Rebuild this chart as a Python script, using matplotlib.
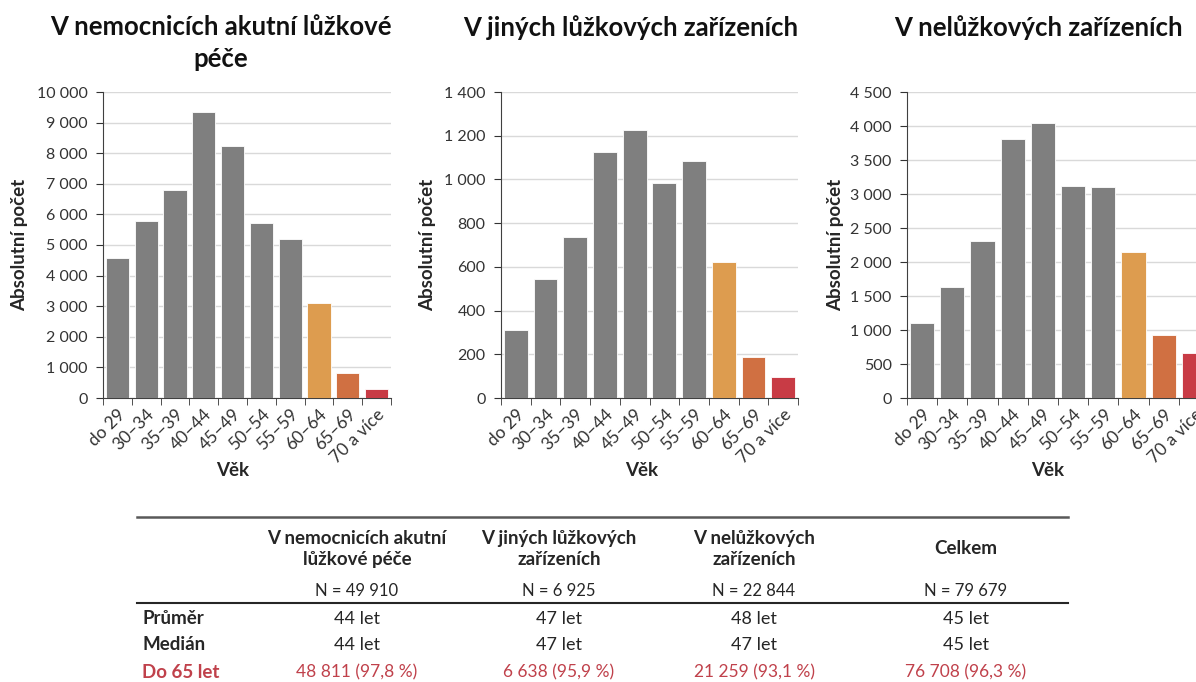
import matplotlib
matplotlib.use('Agg')
import matplotlib.pyplot as plt
from matplotlib.ticker import FixedLocator, FuncFormatter, MultipleLocator

FONT = 'Lato'
matplotlib.rcParams.update({'font.family': FONT, 'font.size': 11.5})

age_groups = ['do 29', '30–34', '35–39', '40–44', '45–49', '50–54',
              '55–59', '60–64', '65–69', '70 a více']

acute_counts = [4570, 5800, 6800, 9340, 8250, 5720, 5210, 3090, 830, 290]
other_bed_counts = [313, 546, 737, 1124, 1225, 984, 1086, 622, 186, 98]
outpatient_counts = [1103, 1632, 2304, 3814, 4039, 3123, 3103, 2147, 922, 662]

panel_titles = ['V nemocnicích akutní lůžkové\npéče',
                'V jiných lůžkových zařízeních',
                'V nelůžkových zařízeních']

# summary table under the charts
table_headers = ['V nemocnicích akutní\nlůžkové péče',
                 'V jiných lůžkových\nzařízeních',
                 'V nelůžkových\nzařízeních',
                 'Celkem']
table_n = ['N = 49 910', 'N = 6 925', 'N = 22 844', 'N = 79 679']
row_labels = ['Průměr', 'Medián', 'Do 65 let']
mean_age = ['44 let', '47 let', '48 let', '45 let']
median_age = ['44 let', '47 let', '47 let', '45 let']
under_65 = ['48 811 (97,8 %)', '6 638 (95,9 %)',
            '21 259 (93,1 %)', '76 708 (96,3 %)']

bar_colors = ['#7f7f7f'] * 7 + ['#dd9c4f', '#d07042', '#c83b45']
RED = '#c0414b'
DARK = '#262626'
W, H = 1196, 682
AX_TOP, AX_BOTTOM = 92, 398


def fmt_thousands(v, pos):
    return '{:,}'.format(int(v)).replace(',', ' ')


def draw_panel(fig, left, width, counts, ymax, ystep, title, title_x,
               ylabel_right, xlabel_x):
    """left, width and label positions are in pixels"""
    ax_h = AX_BOTTOM - AX_TOP
    ax = fig.add_axes([left / W, 1 - AX_BOTTOM / H, width / W, ax_h / H])
    x = range(len(counts))
    ax.bar(x, counts, width=0.8, color=bar_colors, edgecolor='white',
           linewidth=0.6, zorder=3)
    ax.set_xlim(-0.5, len(counts) - 0.5)
    ax.set_ylim(0, ymax)

    ax.yaxis.set_major_locator(MultipleLocator(ystep))
    ax.yaxis.set_major_formatter(FuncFormatter(fmt_thousands))
    ax.grid(axis='y', color='#d9d9d9', linewidth=1, zorder=0)

    # category labels at centers, tick marks between categories
    ax.set_xticks(list(x))
    ax.set_xticklabels(age_groups, rotation=45, ha='right',
                       rotation_mode='anchor', fontsize=12.5)
    ax.tick_params(axis='x', which='major', length=0, pad=6)
    ax.xaxis.set_minor_locator(FixedLocator([i - 0.5 for i in range(len(counts) + 1)]))
    ax.tick_params(axis='x', which='minor', length=5, color='#404040')
    ax.tick_params(axis='y', length=5, color='#404040', pad=6)
    ax.tick_params(colors='#333333', which='both')

    for side in ('top', 'right'):
        ax.spines[side].set_visible(False)
    for side in ('left', 'bottom'):
        ax.spines[side].set_color('#404040')

    ax.set_xlabel('Věk', fontweight='bold', fontsize=13.5, color=DARK)
    ax.xaxis.set_label_coords((xlabel_x - left) / width,
                              (AX_BOTTOM - 462) / ax_h)
    ax.set_ylabel('Absolutní počet', fontweight='bold', fontsize=13.5,
                  color=DARK)
    ax.yaxis.set_label_coords((ylabel_right - left) / width, 0.5)

    fig.text(title_x / W, 1 - 15 / H, title, ha='center', va='top',
             fontsize=18.5, fontweight='bold', linespacing=1.38, color='#111111')
    return ax


fig = plt.figure(figsize=(W / 100, H / 100), dpi=100)

draw_panel(fig, 103, 288, acute_counts, 10000, 1000, panel_titles[0],
           221, 28, 233)
draw_panel(fig, 501, 297, other_bed_counts, 1400, 200, panel_titles[1],
           631, 436, 642)
draw_panel(fig, 907, 302, outpatient_counts, 4500, 500, panel_titles[2],
           1038, 844, 1048)

# table
col_x = [357, 559, 754, 966]
fig.add_artist(plt.Line2D([137 / W, 1068 / W], [1 - 517 / H] * 2,
                          color='#595959', linewidth=1.8))
fig.add_artist(plt.Line2D([137 / W, 1068 / W], [1 - 603 / H] * 2,
                          color=DARK, linewidth=1.5))

for cx, head, n in zip(col_x, table_headers, table_n):
    fig.text(cx / W, 1 - 549 / H, head, ha='center', va='center',
             fontsize=13.5, fontweight='bold', color=DARK, linespacing=1.35)
    fig.text(cx / W, 1 - 591 / H, n, ha='center', va='center',
             fontsize=12, color=DARK)

row_y = [619, 645, 672]
row_values = [mean_age, median_age, under_65]
for i, (label, y, values) in enumerate(zip(row_labels, row_y, row_values)):
    color = RED if i == 2 else DARK
    fig.text(142 / W, 1 - y / H, label, ha='left', va='center',
             fontsize=13.5, fontweight='bold', color=color)
    for cx, val in zip(col_x, values):
        fig.text(cx / W, 1 - y / H, val, ha='center', va='center',
                 fontsize=13 if i < 2 else 12.5, color=color)

plt.savefig('out.png', dpi=100)
plt.close()
